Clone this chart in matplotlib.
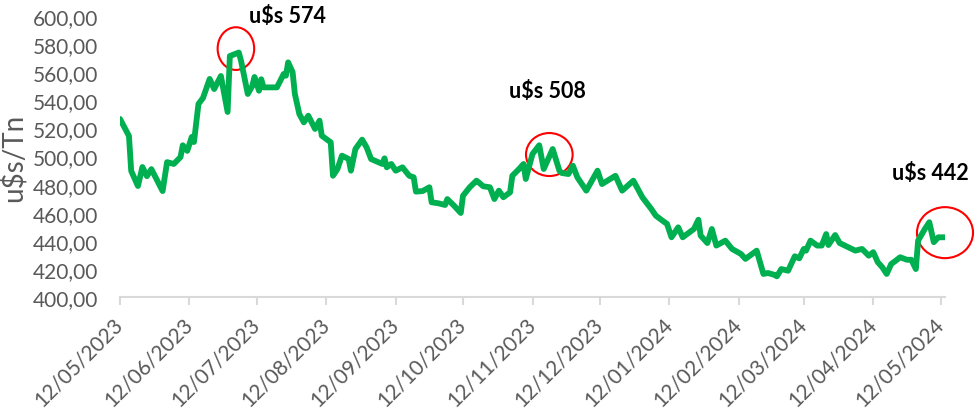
import matplotlib
matplotlib.use("Agg")
import matplotlib.pyplot as plt
import matplotlib.dates as mdates
import pandas as pd
from matplotlib.patches import Ellipse
from matplotlib.ticker import FuncFormatter

plt.rcParams['font.family'] = ['Lato', 'DejaVu Sans']

dates = ["2023-05-12","2023-05-16","2023-05-17","2023-05-20","2023-05-22","2023-05-24","2023-05-26","2023-05-31",
         "2023-06-02","2023-06-05","2023-06-08","2023-06-09","2023-06-11","2023-06-13","2023-06-14","2023-06-16","2023-06-18","2023-06-21","2023-06-23","2023-06-26","2023-06-29","2023-06-30",
         "2023-07-04","2023-07-05","2023-07-08","2023-07-10","2023-07-11","2023-07-13","2023-07-14","2023-07-15","2023-07-21","2023-07-24","2023-07-25","2023-07-26","2023-07-28","2023-07-29","2023-07-31",
         "2023-08-02","2023-08-04","2023-08-07","2023-08-09","2023-08-10","2023-08-14","2023-08-15","2023-08-17","2023-08-19","2023-08-22","2023-08-23","2023-08-25","2023-08-28","2023-08-30",
         "2023-09-01","2023-09-06","2023-09-07","2023-09-08","2023-09-10","2023-09-12","2023-09-15","2023-09-18","2023-09-20","2023-09-21","2023-09-24","2023-09-27","2023-09-28",
         "2023-10-01","2023-10-04","2023-10-05","2023-10-08","2023-10-11","2023-10-12","2023-10-15","2023-10-18","2023-10-19","2023-10-21","2023-10-24","2023-10-26","2023-10-28","2023-10-30",
         "2023-11-02","2023-11-03","2023-11-06","2023-11-08","2023-11-09","2023-11-12","2023-11-15","2023-11-17","2023-11-21","2023-11-24","2023-11-25","2023-11-28","2023-11-30",
         "2023-12-02","2023-12-06","2023-12-11","2023-12-13","2023-12-19","2023-12-22","2023-12-27","2023-12-31",
         "2024-01-04","2024-01-06","2024-01-09","2024-01-11","2024-01-13","2024-01-16","2024-01-18","2024-01-21","2024-01-23","2024-01-25","2024-01-26","2024-01-29","2024-01-31",
         "2024-02-02","2024-02-06","2024-02-09","2024-02-13","2024-02-15","2024-02-18","2024-02-20","2024-02-23","2024-02-25","2024-02-28","2024-02-29",
         "2024-03-02","2024-03-05","2024-03-08","2024-03-10","2024-03-12","2024-03-13","2024-03-15","2024-03-18","2024-03-20","2024-03-22","2024-03-23","2024-03-26","2024-03-28","2024-03-31",
         "2024-04-04","2024-04-07","2024-04-10","2024-04-12","2024-04-14","2024-04-16","2024-04-18","2024-04-20","2024-04-22","2024-04-24","2024-04-27","2024-04-29",
         "2024-05-01","2024-05-02","2024-05-05","2024-05-07","2024-05-09","2024-05-11","2024-05-14"]

prices = [526.7, 514.6, 489.7, 479.0, 492.5, 486.0, 491.0, 475.4,
          496.0, 494.7, 499.6, 508.0, 504.0, 513.9, 510.3, 537.4, 541.6, 555.2, 548.0, 557.3, 531.7, 571.5,
          574.0, 568.0, 544.5, 550.2, 556.6, 546.8, 555.0, 549.2, 549.2, 558.7, 557.5, 567.0, 560.0, 544.5, 530.2,
          524.3, 529.0, 519.6, 525.5, 514.8, 510.1, 486.3, 491.1, 500.6, 498.2, 489.9, 505.3, 512.0, 506.5,
          498.2, 494.7, 498.7, 492.3, 494.7, 489.9, 492.3, 486.3, 485.2, 475.0, 475.4, 478.1, 467.4,
          466.7, 465.5, 469.7, 465.0, 459.8, 472.1, 478.1, 482.8, 481.6, 478.8, 478.1, 469.7, 475.7, 471.0,
          474.5, 486.3, 491.1, 494.7, 484.0, 501.8, 508.0, 491.1, 505.3, 489.9, 488.3, 487.5, 493.5,
          485.2, 475.7, 489.9, 480.4, 486.3, 475.7, 482.8, 471.0,
          462.6, 457.9, 454.3, 452.0, 442.5, 449.6, 442.5, 446.0, 448.4, 455.0, 443.7, 438.4, 448.4,
          436.6, 440.1, 434.2, 430.6, 427.1, 430.6, 433.0, 416.4, 417.1, 415.7, 414.7,
          419.9, 418.7, 429.0, 427.5, 434.2, 433.0, 440.1, 436.6, 436.6, 444.8, 437.0, 444.1, 438.4, 436.1,
          433.0, 434.2, 429.4, 431.9, 424.8, 421.2, 416.4, 423.5, 425.8, 428.3, 426.5, 426.5,
          419.9, 440.1, 448.4, 453.2, 439.0, 442.5, 442.5]

tick_dates = ["2023-05-12","2023-06-12","2023-07-12","2023-08-12","2023-09-12","2023-10-12","2023-11-12",
              "2023-12-12","2024-01-12","2024-02-12","2024-03-12","2024-04-12","2024-05-12"]
y_ticks = [400, 420, 440, 460, 480, 500, 520, 540, 560, 580, 600]

highlight_dates = ["2023-07-04", "2023-11-15", "2024-05-14"]
highlight_values = [574, 508, 442]

GRAY = "#595959"
AXIS_GRAY = "#D9D9D9"

fig = plt.figure(figsize=(9.75, 4.14), dpi=100)
ax = fig.add_axes([120/975, 1 - 298/414, 825/975, 281/414])

x = pd.to_datetime(dates)
ax.plot(x, prices, color="#00B050", lw=4.2, solid_joinstyle="round", solid_capstyle="round")

ax.set_ylim(400, 600)
ax.set_yticks(y_ticks)
ax.yaxis.set_major_formatter(FuncFormatter(lambda v, p: f"{v:.2f}".replace(".", ",")))
ax.set_xlim(pd.Timestamp("2023-05-12"), pd.Timestamp("2024-05-14"))
xt = pd.to_datetime(tick_dates)
ax.set_xticks(xt)
ax.set_xticklabels([d.strftime("%d/%m/%Y") for d in xt], rotation=45, ha="right",
                   va="center", rotation_mode="anchor")

for s in ["top", "right", "left"]:
    ax.spines[s].set_visible(False)
ax.spines["bottom"].set_color(AXIS_GRAY)
ax.spines["bottom"].set_linewidth(1.5)
ax.tick_params(axis="x", direction="out", length=6, width=1.5, color=AXIS_GRAY,
               labelcolor=GRAY, labelsize=15, pad=11)
ax.tick_params(axis="y", length=0, labelcolor=GRAY, labelsize=15, pad=16)
ax.set_ylabel("u$s/Tn", color=GRAY, fontsize=20, labelpad=4)

# highlight circles and labels
circle_specs = [(-1.3, 2.8, 16.3, 30.4), (4.5, -6.6, 20.8, 30.6), (0.0, 3.8, 25.0, 36.3)]
text_offsets = [(10, 37), (-30, 55), (-53, 65)]
for d, v, (dx, dy, w, h), (tx, ty) in zip(highlight_dates, highlight_values, circle_specs, text_offsets):
    c = mdates.date2num(pd.Timestamp(d))
    ax.add_patch(Ellipse((c + dx, v + dy), w, h, fill=False, edgecolor="#FF0000",
                         lw=1.5, clip_on=False))
    ax.annotate(f"u$s {v}", xy=(pd.Timestamp(d), v), xytext=(tx, ty), textcoords="offset pixels",
                fontsize=15.5, fontweight="bold", color="black", ha="left", va="center",
                annotation_clip=False)

fig.savefig("out.png", dpi=100)
